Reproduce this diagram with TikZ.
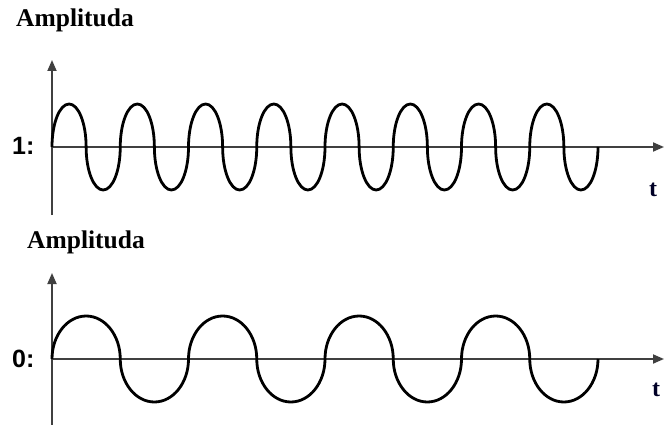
\documentclass[tikz,border=0pt]{standalone}
\usepackage{fontspec}
\setmainfont{Liberation Serif}
\newfontfamily\labsans{Liberation Sans}
\usetikzlibrary{arrows.meta}
\tikzset{
  axis/.style={line width=1.8pt, draw=black!75, -{Triangle[length=11pt,width=9pt]}},
  plainaxis/.style={line width=1.8pt, draw=black!75},
  wave/.style={line width=2.8pt, draw=black, line join=round},
  title/.style={anchor=base west, inner sep=0pt, font=\fontsize{25.5}{28}\selectfont\bfseries},
  level/.style={anchor=base west, inner sep=0pt, font=\labsans\fontsize{25}{28}\selectfont\bfseries},
  tlab/.style={anchor=base west, inner sep=0pt, font=\fontsize{24}{26}\selectfont\bfseries, text=black!85!blue},
}
\begin{document}
\begin{tikzpicture}[x=1pt,y=-1pt]
\useasboundingbox (0,0) rectangle (664,425);
% ---- top panel ----
\coordinate (o1) at (52,147);
\coordinate (y1top) at (52,60);
\coordinate (y1bot) at (52,215);
\coordinate (x1end) at (664,147);
\draw[plainaxis] (y1bot) -- (o1);
\draw[axis] (o1) -- (y1top);
\draw[axis] (o1) -- (x1end);
\draw[wave] (o1) \foreach \k in {1,...,8} {
   arc[start angle=180, end angle=0, x radius=17.0625pt, y radius=43pt]
   arc[start angle=180, end angle=360, x radius=17.0625pt, y radius=43pt]};
\node[title] (amp1) at (16,27) {Amplituda};
\node[level] (one) at (12,155) {1:};
\node[tlab] (t1) at (649,196) {t};
% ---- bottom panel ----
\coordinate (o2) at (52,359);
\coordinate (y2top) at (52,273);
\coordinate (y2bot) at (52,425);
\coordinate (x2end) at (664,359);
\draw[plainaxis] (y2bot) -- (o2);
\draw[axis] (o2) -- (y2top);
\draw[axis] (o2) -- (x2end);
\draw[wave] (o2) \foreach \k in {1,...,4} {
   arc[start angle=180, end angle=0, x radius=34.125pt, y radius=43pt]
   arc[start angle=180, end angle=360, x radius=34.125pt, y radius=43pt]};
\node[title] (amp2) at (27,248) {Amplituda};
\node[level] (zero) at (12,367) {0:};
\node[tlab] (t2) at (652,396) {t};
\end{tikzpicture}
\end{document}
